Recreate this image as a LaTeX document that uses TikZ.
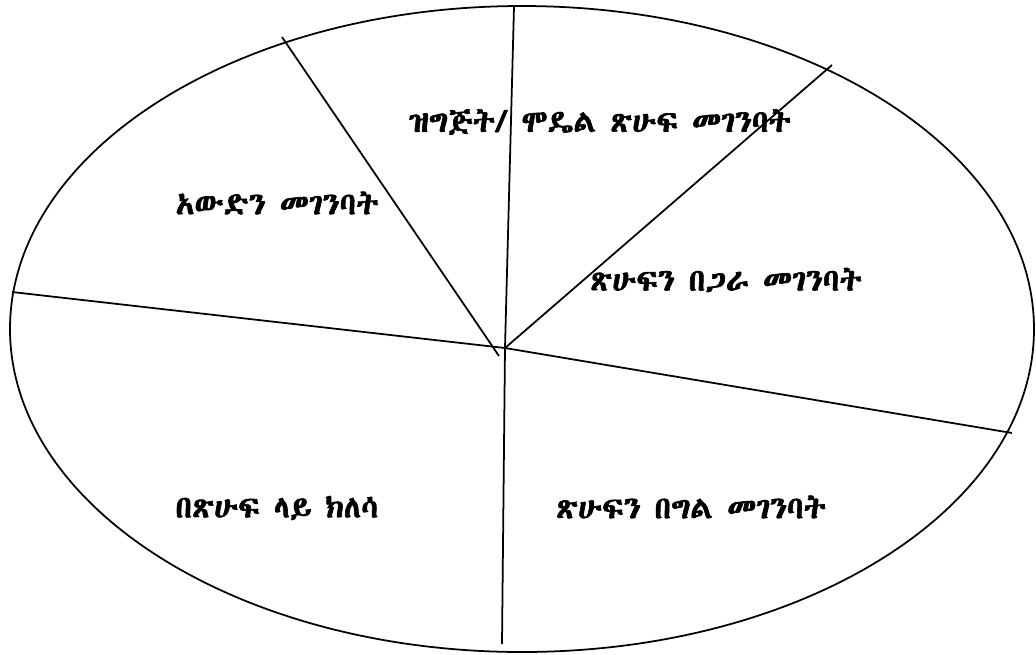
\documentclass[tikz,border=0pt]{standalone}
\usepackage{fontspec}
\IfFontExistsTF{Abyssinica SIL}{\newfontfamily\ethfont[FakeBold=2]{Abyssinica SIL}}{%
  \IfFontExistsTF{FreeSerif}{\newfontfamily\ethfont[FakeBold=2]{FreeSerif}}{%
    \IfFontExistsTF{FreeSans}{\newfontfamily\ethfont[FakeBold=2]{FreeSans}}{%
      \newfontfamily\ethfont[FakeBold=2]{DejaVu Sans}}}}
\usetikzlibrary{positioning}

\begin{document}
\begin{tikzpicture}[x=0.02cm, y=-0.02cm, line width=1pt, sector/.style={font=\ethfont\fontsize{17.6}{20}\selectfont, inner sep=0pt}]
    \useasboundingbox (0,0) rectangle (1036,654);
    \draw (522,329) ellipse [x radius=512, y radius=323];

    \coordinate (hub) at (505,348);
    \coordinate (nw) at (282,37);
    \coordinate (n) at (514,7);
    \coordinate (ne) at (832,65);
    \coordinate (w) at (12,292);
    \coordinate (e) at (1012,433);
    \coordinate (s) at (502,644);

    \draw (499,356) -- (nw);
    \draw (hub) -- (n);
    \draw (hub) -- (ne);
    \draw (hub) -- (w);
    \draw (hub) -- (e);
    \draw (hub) -- (s);

    \node[sector] (model) at (600,122) {ዝግጅት/ ሞዴል ጽሁፍ መገንባት};
    \node[sector] (context) at (277,203) {አውድን መገንባት};
    \node[sector] (joint) at (726,280) {ጽሁፍን በጋራ መገንባት};
    \node[sector] (review) at (277,508) {በጽሁፍ ላይ ክለሳ};
    \node[sector] (indep) at (691,507) {ጽሁፍን በግል መገንባት};
\end{tikzpicture}
\end{document}
